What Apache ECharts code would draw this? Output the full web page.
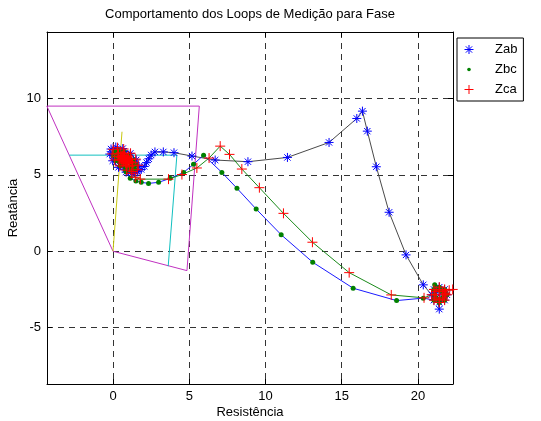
<!DOCTYPE html>
<html>
<head>
<meta charset="utf-8">
<script src="https://cdn.jsdelivr.net/npm/echarts@6/dist/echarts.min.js"></script>
<style>
  html, body { margin: 0; padding: 0; background: #fff; }
  #chart { width: 541px; height: 421px; }
</style>
</head>
<body>
<div id="chart"></div>
<script>
// Axis ticks and limits (R, X in ohms)
const xTicks = [0, 5, 10, 15, 20];
const yTicks = [-5, 0, 5, 10];
const xLimits = [-4.33, 22.3];
const yLimits = [-8.69, 14.35];

// Protection zone outlines and line impedance
const zone2Boundary = [[0, 0], [4.85, -1.27], [5.66, 9.5], [-4.34, 9.5], [0, 0]];
const zone1Boundary = [[-2.86, 6.29], [4.19, 6.29], [3.62, -0.98]];
const lineImpedance = [[0, 0], [0.59, 7.82]];

// Measured loop impedances [R, X]
const zab = [
  [1.32, 5.08], [1.63, 5.21], [1.71, 5.54], [1.52, 5.98], [1.14, 6.41], [0.64, 6.72],
  [0.18, 6.82], [-0.13, 6.69], [-0.21, 6.36], [-0.02, 5.92], [0.36, 5.49], [0.86, 5.18],
  [1.18, 5.30], [1.41, 5.40], [1.47, 5.64], [1.33, 5.97], [1.04, 6.30], [0.67, 6.53],
  [0.32, 6.60], [0.09, 6.50], [0.03, 6.26], [0.17, 5.93], [0.46, 5.60], [0.83, 5.37],
  [1.25, 5.12], [1.60, 5.20], [1.85, 5.35], [2.05, 5.55], [2.20, 5.80], [2.35, 6.05],
  [2.50, 6.30], [2.75, 6.50], [3.30, 6.50], [4.00, 6.45], [5.18, 6.23], [6.70, 5.97],
  [8.85, 5.86], [11.44, 6.14], [14.17, 7.12], [15.99, 8.69], [16.36, 9.17], [16.68, 7.86],
  [17.27, 5.53], [18.11, 2.55], [19.22, -0.24], [20.35, -2.20],
  [20.90, -2.85], [21.05, -3.20], [21.40, -3.35], [21.75, -3.20], [21.90, -2.85], [21.75, -2.50],
  [21.40, -2.35], [21.05, -2.50], [21.10, -2.85], [21.19, -3.06], [21.40, -3.15], [21.61, -3.06],
  [21.70, -2.85], [21.61, -2.64], [21.40, -2.55], [21.19, -2.64], [21.40, -3.79]
];
const zbc = [
  [0.83, 5.37], [1.18, 5.30], [1.41, 5.40], [1.47, 5.64], [1.33, 5.97], [1.04, 6.30],
  [0.67, 6.53], [0.32, 6.60], [0.09, 6.50], [0.03, 6.26], [0.17, 5.93], [0.46, 5.60],
  [0.81, 5.56], [1.04, 5.51], [1.19, 5.58], [1.23, 5.74], [1.14, 5.97], [0.95, 6.18],
  [0.69, 6.34], [0.46, 6.39], [0.31, 6.32], [0.27, 6.16], [0.36, 5.93], [0.55, 5.72],
  [0.85, 5.20], [1.13, 4.77], [1.50, 4.60], [1.85, 4.51], [2.33, 4.44], [2.99, 4.51],
  [3.75, 4.77], [4.63, 5.16], [5.28, 5.69], [5.94, 6.29], [7.14, 5.16], [8.13, 4.12],
  [9.39, 2.76], [11.03, 1.08], [13.10, -0.72], [15.75, -2.42], [18.60, -3.23], [20.35, -3.07],
  [21.05, -3.20], [21.40, -3.35], [21.75, -3.20], [21.90, -2.85], [21.75, -2.50], [21.40, -2.35],
  [21.10, -2.20], [21.05, -2.50], [21.10, -2.85], [21.19, -3.06], [21.40, -3.15], [21.61, -3.06],
  [21.70, -2.85], [21.61, -2.64], [21.40, -2.55]
];
const zca = [
  [1.59, 5.33], [1.66, 5.63], [1.49, 6.03], [1.15, 6.41], [0.70, 6.69], [0.29, 6.78],
  [0.01, 6.67], [-0.06, 6.37], [0.11, 5.97], [0.45, 5.59], [0.90, 5.31], [1.31, 5.22],
  [1.24, 5.63], [1.28, 5.79], [1.19, 6.02], [1.00, 6.23], [0.74, 6.39], [0.51, 6.44],
  [0.36, 6.37], [0.32, 6.21], [0.41, 5.98], [0.60, 5.77], [0.86, 5.61], [1.09, 5.56],
  [1.06, 5.78], [1.09, 5.88], [1.03, 6.01], [0.92, 6.14], [0.77, 6.23], [0.63, 6.26],
  [0.54, 6.22], [0.51, 6.12], [0.57, 5.99], [0.68, 5.86], [0.83, 5.77], [0.97, 5.74],
  [0.93, 5.89], [0.94, 5.94], [0.92, 6.00], [0.86, 6.07], [0.78, 6.12], [0.71, 6.13],
  [0.67, 6.11], [0.66, 6.06], [0.68, 6.00], [0.74, 5.93], [0.82, 5.88], [0.89, 5.87],
  [1.20, 5.10], [1.46, 4.84], [1.79, 4.72], [3.64, 4.72], [4.52, 5.02], [5.50, 5.45],
  [6.30, 6.10], [7.03, 6.88], [7.64, 6.34], [8.45, 5.38], [9.60, 4.16], [11.18, 2.48],
  [13.08, 0.59], [15.49, -1.40], [18.25, -2.86], [20.40, -3.05],
  [20.90, -2.85], [21.05, -3.20], [21.40, -3.35], [21.75, -3.20], [21.90, -2.85], [21.75, -2.50],
  [21.40, -2.35], [21.05, -2.50], [21.19, -2.64], [21.10, -2.85], [21.19, -3.06], [21.40, -3.15],
  [21.61, -3.06], [21.70, -2.85], [21.61, -2.64], [21.40, -2.55], [21.80, -2.75], [22.05, -2.55],
  [22.28, -2.50]
];

const FONT = '"Liberation Sans", Arial, Helvetica, sans-serif';
const starPath = 'path://M5 0L5 10M0 5L10 5M1.5 1.5L8.5 8.5M8.5 1.5L1.5 8.5';
const plusPath = 'path://M5 0L5 10M0 5L10 5';
const dotIcon = 'path://M0 0M10 10M5 3A2 2 0 1 1 5 7A2 2 0 1 1 5 3Z';

function outline(data, color) {
  return {
    type: 'line', data: data, symbol: 'none', silent: true, z: 1,
    lineStyle: { color: color, width: 1 }
  };
}
function trace(data, color) {
  return {
    type: 'line', data: data, symbol: 'none', silent: true, z: 2,
    lineStyle: { color: color, width: 1 }
  };
}

const chart = echarts.init(document.getElementById('chart'), null, { renderer: 'canvas' });

const boxAxisLine = { show: true, onZero: false, lineStyle: { color: '#000', width: 1 } };
const gridDash = { show: true, lineStyle: { color: '#333', width: 1, type: [6, 5] } };

chart.setOption({
  animation: false,
  backgroundColor: '#fff',
  textStyle: { fontFamily: FONT },
  title: {
    text: 'Comportamento dos Loops de Medição para Fase',
    left: 250, top: 8, padding: 0, textAlign: 'center',
    textStyle: { fontFamily: FONT, fontSize: 13, fontWeight: 'normal', color: '#000' }
  },
  legend: {
    orient: 'vertical', left: 457, top: 38,
    padding: [5, 6, 5, 7],
    itemWidth: 42, itemHeight: 9, itemGap: 7,
    borderColor: '#000', borderWidth: 1, backgroundColor: '#fff',
    textStyle: { fontFamily: FONT, fontSize: 13, color: '#000' },
    data: [
      { name: 'Zab', icon: starPath, itemStyle: { color: 'rgba(0,0,0,0)', borderColor: '#0000ff', borderWidth: 1 } },
      { name: 'Zbc', icon: dotIcon, itemStyle: { color: '#008000', borderWidth: 0 } },
      { name: 'Zca', icon: plusPath, itemStyle: { color: 'rgba(0,0,0,0)', borderColor: '#ff0000', borderWidth: 1 } }
    ]
  },
  grid: { left: 47, right: 88, top: 32, bottom: 37, containLabel: false, outerBoundsMode: 'none' },
  xAxis: [
    {
      type: 'value', position: 'bottom', min: xLimits[0], max: xLimits[1],
      name: 'Resistência', nameLocation: 'middle', nameGap: 22, nameMoveOverlap: false,
      nameTextStyle: { fontFamily: FONT, fontSize: 13, color: '#000' },
      axisLine: boxAxisLine,
      axisTick: { show: true, inside: true, length: 5, customValues: xTicks, lineStyle: { color: '#000' } },
      axisLabel: { customValues: xTicks, fontFamily: FONT, fontSize: 13, color: '#000', margin: 6 },
      splitLine: gridDash
    },
    {
      type: 'value', position: 'top', min: xLimits[0], max: xLimits[1],
      axisLine: boxAxisLine,
      axisTick: { show: true, inside: true, length: 5, customValues: xTicks, lineStyle: { color: '#000' } },
      axisLabel: { show: false },
      splitLine: { show: false }
    }
  ],
  yAxis: [
    {
      type: 'value', position: 'left', min: yLimits[0], max: yLimits[1],
      name: 'Reatância', nameLocation: 'middle', nameGap: 27, nameRotate: 90, nameMoveOverlap: false,
      nameTextStyle: { fontFamily: FONT, fontSize: 13, color: '#000' },
      axisLine: boxAxisLine,
      axisTick: { show: true, inside: true, length: 5, customValues: yTicks, lineStyle: { color: '#000' } },
      axisLabel: { customValues: yTicks, fontFamily: FONT, fontSize: 13, color: '#000', margin: 6 },
      splitLine: gridDash
    },
    {
      type: 'value', position: 'right', min: yLimits[0], max: yLimits[1],
      axisLine: boxAxisLine,
      axisTick: { show: true, inside: true, length: 5, customValues: yTicks, lineStyle: { color: '#000' } },
      axisLabel: { show: false },
      splitLine: { show: false }
    }
  ],
  series: [
    outline(zone2Boundary, '#c030c0'),
    outline(zone1Boundary, '#10c0c0'),
    outline(lineImpedance, '#c8c810'),
    trace(zab, '#4a4a4a'),
    trace(zbc, '#1a1aff'),
    trace(zca, '#1a8a1a'),
    {
      name: 'Zab', type: 'scatter', data: zab, z: 3, silent: true,
      symbol: starPath, symbolSize: 9,
      itemStyle: { color: 'rgba(0,0,0,0)', borderColor: '#0000ff', borderWidth: 1, opacity: 1 }
    },
    {
      name: 'Zbc', type: 'scatter', data: zbc, z: 4, silent: true,
      symbol: 'circle', symbolSize: 5,
      itemStyle: { color: '#008000', opacity: 1 }
    },
    {
      name: 'Zca', type: 'scatter', data: zca, z: 5, silent: true,
      symbol: plusPath, symbolSize: 10,
      itemStyle: { color: 'rgba(0,0,0,0)', borderColor: '#ff0000', borderWidth: 1, opacity: 1 }
    }
  ]
});
</script>
</body>
</html>
